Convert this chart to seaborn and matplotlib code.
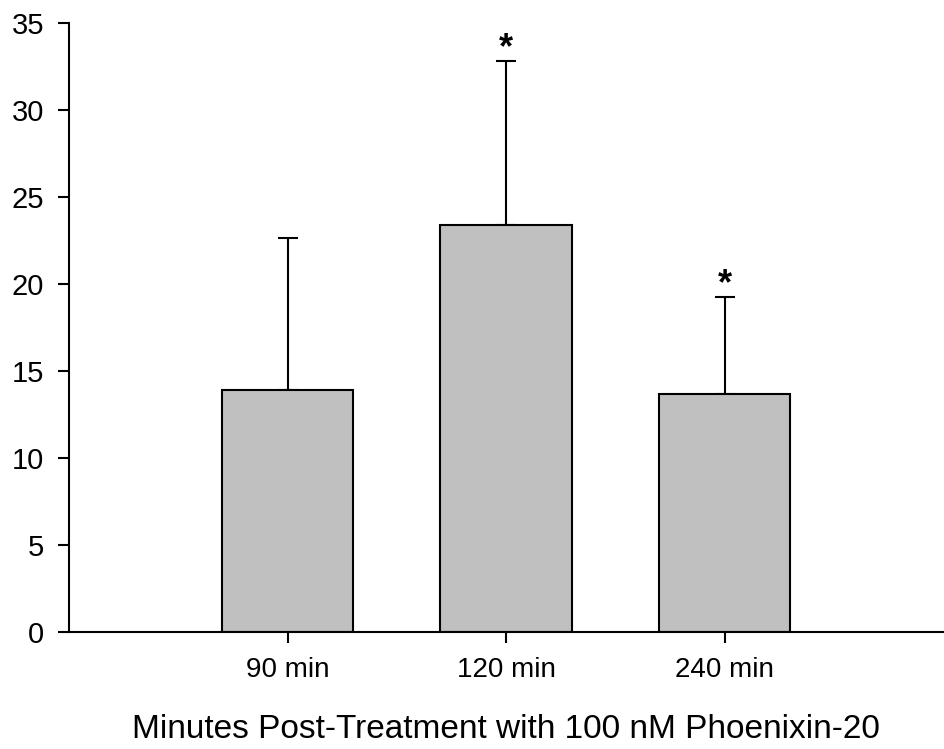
import seaborn as sns
import matplotlib.pyplot as plt
import pandas as pd

# values
times = ["90 min", "120 min", "240 min"]
means = [13.9, 23.4, 13.7]
errors = [8.75, 9.4, 5.55]
marks = ["", "*", "*"]

df = pd.DataFrame({"time": times, "value": means})

sns.set_style("ticks", {"text.color": "black", "xtick.color": "black",
                        "ytick.color": "black", "axes.edgecolor": "black",
                        "axes.labelcolor": "black"})
plt.rcParams['font.family'] = ['Liberation Sans', 'DejaVu Sans']

fig = plt.figure(figsize=(9.45, 7.49), dpi=100)
ax = fig.add_axes([0.073, 0.156, 0.925, 0.813])

sns.barplot(data=df, x="time", y="value", color="#c0c0c0", width=0.6,
            edgecolor="black", linewidth=1.5, saturation=1, ax=ax, zorder=2)
ax.errorbar(range(len(times)), means, yerr=[[0] * len(errors), errors],
            fmt="none", ecolor="black", elinewidth=1.5, capsize=7,
            capthick=1.5, zorder=1)

for i, m in enumerate(marks):
    if m:
        ax.text(i, means[i] + errors[i] + 0.75, m, ha="center", va="center",
                fontsize=26, fontweight="bold")

ax.set_xlim(-1, 3)
ax.set_ylim(0, 35)
ax.set_yticks(range(0, 36, 5))
ax.set_xlabel("Minutes Post-Treatment with 100 nM Phoenixin-20", fontsize=24, labelpad=22)
ax.set_ylabel("")
ax.tick_params(axis="both", direction="out", length=8, width=1.5, labelsize=20)
ax.tick_params(axis="x", pad=10)
ax.tick_params(axis="y", labelsize=21, pad=10)
sns.despine(ax=ax)
for s in ["left", "bottom"]:
    ax.spines[s].set_linewidth(1.5)

fig.savefig("out.png", dpi=100)
